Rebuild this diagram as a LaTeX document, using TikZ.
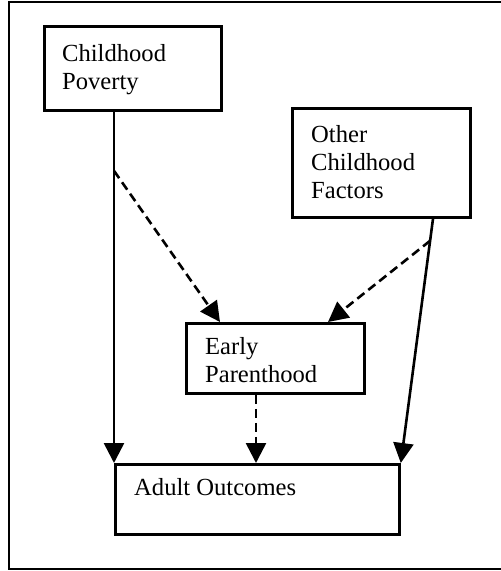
\documentclass[tikz,border=0pt]{standalone}
\usepackage{fontspec}
\setmainfont{Liberation Serif}
\usetikzlibrary{arrows.meta,calc}
\begin{document}
\begin{tikzpicture}[x=1pt,y=-1pt,
  box/.style={draw,line width=2.8pt,rectangle,inner sep=0pt,anchor=north west},
  lbl/.style={anchor=base west,inner sep=0pt,align=left,font=\fontsize{24.6}{28}\selectfont},
  conn/.style={line width=2.6pt,-{Triangle[length=20pt,width=20pt]}},
  dashconn/.style={conn,dash pattern=on 9pt off 5pt}]
\useasboundingbox (0,0) rectangle (501,571);
\draw[line width=2.8pt] (9,2) rectangle (510,569);
\node[box,minimum width=177pt,minimum height=84pt] (pov) at (43,25) {};
\node[box,minimum width=178pt,minimum height=109pt] (oth) at (291,107) {};
\node[box,minimum width=178pt,minimum height=70pt] (early) at (185,322) {};
\node[box,minimum width=284pt,minimum height=70pt] (adult) at (114,463) {};
\node[lbl] (povt) at (62,89) {Childhood\\Poverty};
\node[lbl] (otht) at (311,198) {Other\\Childhood\\Factors};
\node[lbl] (earlyt) at (205,382) {Early\\Parenthood};
\node[lbl] (adultt) at (134,495) {Adult Outcomes};
\coordinate (othout) at ($(oth.south west)+(142,0)$);
\coordinate (p1) at ($(pov.south -| adult.north west)+(0,59)$);
\coordinate (p2) at ($(othout)!0.09!(adult.north east)$);
\coordinate (eo) at ($(early.south west)+(71,0)$);
\draw[conn] (pov.south -| adult.north west) -- (adult.north west);
\draw[conn] (othout) -- (adult.north east);
\draw[dashconn] (p1) -- ($(early.north west)+(35,0)$);
\draw[dashconn] (p2) -- ($(early.north west)+(143,0)$);
\draw[dashconn] (eo) -- (eo |- adult.north);
\end{tikzpicture}
\end{document}
